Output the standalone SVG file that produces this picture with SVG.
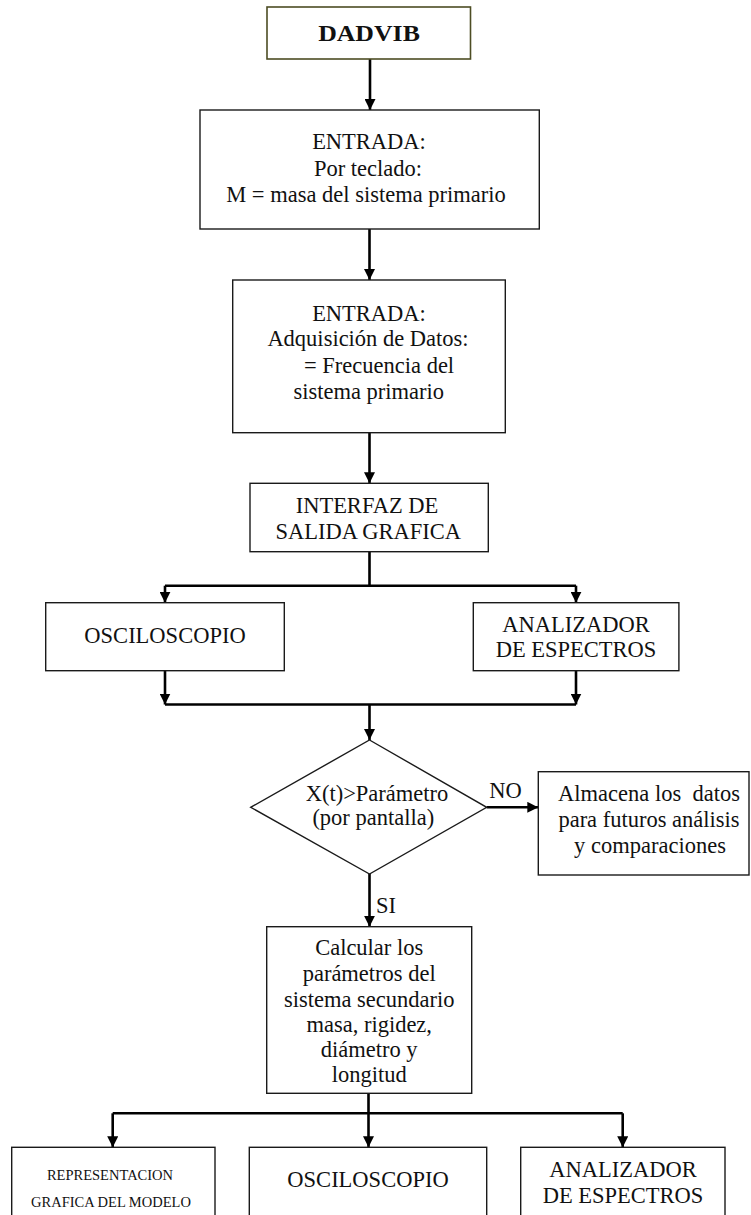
<svg xmlns="http://www.w3.org/2000/svg" width="751" height="1215" viewBox="0 0 751 1215">
<style>
.box{fill:#fff;stroke:#1a1a1a;stroke-width:1.4}
.t{font-family:"Liberation Serif","Times New Roman",serif;font-size:22.5px;fill:#111;text-anchor:middle}
.s{font-size:14.5px}
.c{fill:none;stroke:#000;stroke-width:2.6}
</style>
<defs>
<marker id="ah" viewBox="0 0 11 11" refX="11" refY="5.5" markerWidth="11" markerHeight="11" markerUnits="userSpaceOnUse" orient="auto">
<path d="M0,0 L11,5.5 L0,11 z" fill="#000"/>
</marker>
</defs>
<rect width="751" height="1215" fill="#fff"/>
<g id="connectors">
<path class="c" d="M370,59 V110" marker-end="url(#ah)"/>
<path class="c" d="M369.5,229 V280" marker-end="url(#ah)"/>
<path class="c" d="M369.5,433 V483.3" marker-end="url(#ah)"/>
<path class="c" d="M369.5,551.7 V585.7 M165,585.7 H576"/>
<path class="c" d="M165,585.7 V602.7" marker-end="url(#ah)"/>
<path class="c" d="M576,585.7 V602.7" marker-end="url(#ah)"/>
<path class="c" d="M165,670.7 V704.5" marker-end="url(#ah)"/>
<path class="c" d="M576,670.7 V704.5" marker-end="url(#ah)"/>
<path class="c" d="M165,704.5 H576"/>
<path class="c" d="M369.5,704.5 V740" marker-end="url(#ah)"/>
<path class="c" d="M486.7,807.3 H538.3" marker-end="url(#ah)"/>
<path class="c" d="M369.5,874 V926.7" marker-end="url(#ah)"/>
<path class="c" d="M368.5,1093.3 V1113.3 M112.7,1113.3 H622.7"/>
<path class="c" d="M112.7,1113.3 V1147.3" marker-end="url(#ah)"/>
<path class="c" d="M368.5,1113.3 V1147.3" marker-end="url(#ah)"/>
<path class="c" d="M622.7,1113.3 V1147.3" marker-end="url(#ah)"/>
<text class="t" x="489.3" y="798.3" style="text-anchor:start">NO</text>
<text class="t" x="376" y="913.3" style="text-anchor:start">SI</text>
</g>
<g id="dadvib">
<rect x="267" y="7" width="203.5" height="52" style="fill:#fff;stroke:#4d4d24;stroke-width:1.6"/>
<text class="t" x="369" y="40.7" style="font-weight:bold;font-size:24px" textLength="101.7" lengthAdjust="spacingAndGlyphs">DADVIB</text>
</g>
<g id="entrada1">
<rect class="box" x="200" y="110" width="339.3" height="119"/>
<text class="t" x="369" y="149">ENTRADA:</text>
<text class="t" x="368" y="175.7">Por teclado:</text>
<text class="t" x="366" y="201.7">M = masa del sistema primario</text>
</g>
<g id="entrada2">
<rect class="box" x="232.7" y="280" width="272.6" height="152.7"/>
<text class="t" x="369" y="320.7">ENTRADA:</text>
<text class="t" x="368" y="346">Adquisición de Datos:</text>
<text class="t" x="304" y="373.3" style="text-anchor:start">= Frecuencia del</text>
<text class="t" x="368.7" y="399.3">sistema primario</text>
</g>
<g id="interfaz">
<rect class="box" x="250" y="483.3" width="238.3" height="68.4"/>
<text class="t" x="367" y="512.7">INTERFAZ DE</text>
<text class="t" x="368.3" y="539.3">SALIDA GRAFICA</text>
</g>
<g id="osc1">
<rect class="box" x="45.7" y="602.7" width="238.6" height="68"/>
<text class="t" x="165" y="643.3">OSCILOSCOPIO</text>
</g>
<g id="anal1">
<rect class="box" x="473.3" y="602.7" width="205.6" height="68"/>
<text class="t" x="576" y="631.7">ANALIZADOR</text>
<text class="t" x="576" y="657.3">DE ESPECTROS</text>
</g>
<g id="decision">
<polygon class="box" points="369.5,740 486.7,807.3 369.5,874 250.7,807.3"/>
<text class="t" x="377" y="800.7">X(t)&gt;Parámetro</text>
<text class="t" x="373.3" y="825">(por pantalla)</text>
</g>
<g id="almacena">
<rect class="box" x="538.3" y="771.7" width="210.7" height="103.3"/>
<text class="t" x="649" y="800.7" style="white-space:pre">Almacena los  datos</text>
<text class="t" x="649" y="826.7">para futuros análisis</text>
<text class="t" x="650" y="852.7">y comparaciones</text>
</g>
<g id="calcular">
<rect class="box" x="266.7" y="926.7" width="205" height="166.6"/>
<text class="t" x="369.2" y="955">Calcular los</text>
<text class="t" x="369.2" y="981">parámetros del</text>
<text class="t" x="369.2" y="1006.7">sistema secundario</text>
<text class="t" x="369.2" y="1031.7">masa, rigidez,</text>
<text class="t" x="369.2" y="1056.7">diámetro y</text>
<text class="t" x="369.2" y="1082">longitud</text>
</g>
<g id="repr">
<rect class="box" x="11.7" y="1147.3" width="203.3" height="80"/>
<text class="t s" x="110" y="1180">REPRESENTACION</text>
<text class="t s" x="111" y="1206.7">GRAFICA DEL MODELO</text>
</g>
<g id="osc2">
<rect class="box" x="249.3" y="1147.3" width="237.4" height="80"/>
<text class="t" x="368" y="1187">OSCILOSCOPIO</text>
</g>
<g id="anal2">
<rect class="box" x="520.7" y="1147.3" width="204.3" height="80"/>
<text class="t" x="623" y="1176.7">ANALIZADOR</text>
<text class="t" x="623" y="1203.3">DE ESPECTROS</text>
</g>
</svg>
